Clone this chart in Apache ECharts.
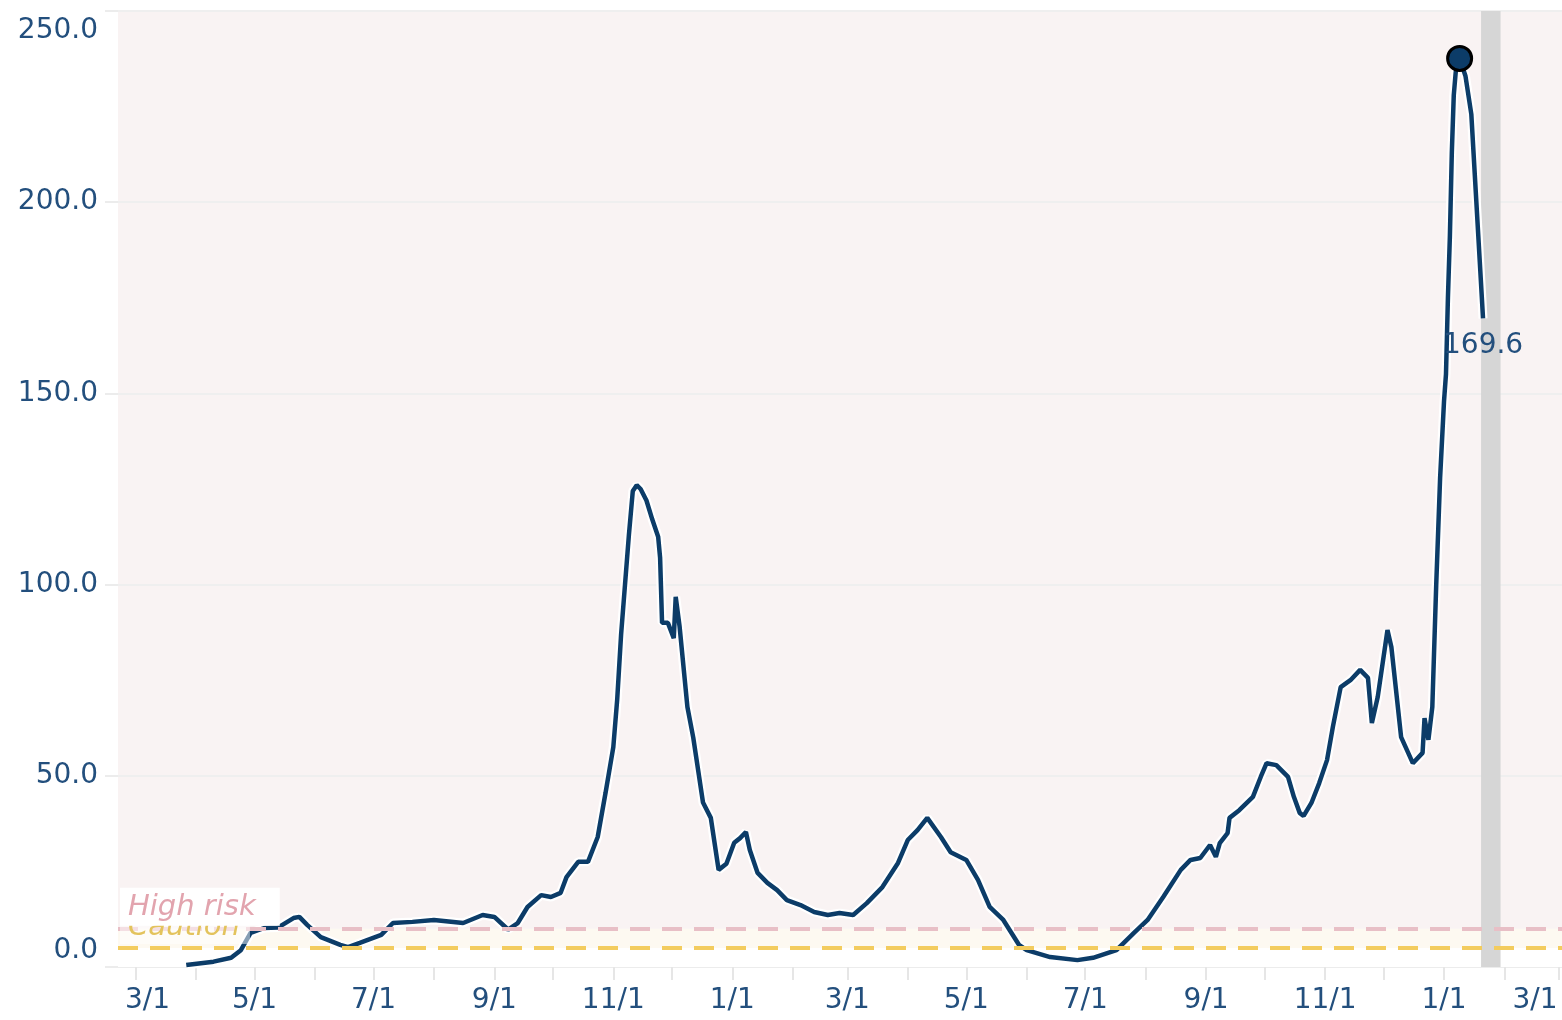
<!DOCTYPE html>
<html>
<head>
    <meta charset="UTF-8">
    <script src="https://cdn.jsdelivr.net/npm/echarts@6/dist/echarts.min.js"></script>
    <style>
        html, body { margin: 0; padding: 0; background: #fff; }
        #chart { width: 1562px; height: 1020px; }
    </style>
</head>
<body>
<div id="chart"></div>
<script>
    // daily rate
    var dates = [
        '2020-03-27', '2020-04-10', '2020-04-19', '2020-04-24', '2020-04-29', '2020-05-06', '2020-05-13',
        '2020-05-21', '2020-05-24', '2020-05-28', '2020-06-04', '2020-06-14', '2020-06-18', '2020-06-24',
        '2020-07-05', '2020-07-11', '2020-07-21', '2020-08-01', '2020-08-16', '2020-08-26', '2020-09-01',
        '2020-09-08', '2020-09-13', '2020-09-18', '2020-09-25', '2020-09-30', '2020-10-05', '2020-10-08',
        '2020-10-14', '2020-10-19', '2020-10-24', '2020-10-28', '2020-11-01', '2020-11-03', '2020-11-05',
        '2020-11-07', '2020-11-09', '2020-11-11', '2020-11-13', '2020-11-15', '2020-11-18', '2020-11-21',
        '2020-11-24', '2020-11-25', '2020-11-26', '2020-11-29', '2020-12-02', '2020-12-03', '2020-12-05',
        '2020-12-09', '2020-12-12', '2020-12-17', '2020-12-21', '2020-12-25', '2020-12-29',
        '2021-01-02', '2021-01-05', '2021-01-08', '2021-01-10', '2021-01-14', '2021-01-19', '2021-01-24',
        '2021-01-29', '2021-02-05', '2021-02-12', '2021-02-19', '2021-02-25', '2021-03-04', '2021-03-11',
        '2021-03-19', '2021-03-27', '2021-04-01', '2021-04-06', '2021-04-11', '2021-04-18', '2021-04-23',
        '2021-05-01', '2021-05-07', '2021-05-13', '2021-05-20', '2021-05-28', '2021-06-01', '2021-06-13',
        '2021-06-27', '2021-07-05', '2021-07-17', '2021-07-26', '2021-08-02', '2021-08-10', '2021-08-19',
        '2021-08-24', '2021-08-29', '2021-09-03', '2021-09-06', '2021-09-08', '2021-09-12', '2021-09-13',
        '2021-09-18', '2021-09-25', '2021-09-29', '2021-10-02', '2021-10-07', '2021-10-13', '2021-10-16',
        '2021-10-19', '2021-10-21', '2021-10-25', '2021-10-29', '2021-11-02', '2021-11-05', '2021-11-09',
        '2021-11-14', '2021-11-19', '2021-11-23', '2021-11-25', '2021-11-28', '2021-12-03', '2021-12-05',
        '2021-12-10', '2021-12-16', '2021-12-21', '2021-12-22', '2021-12-24', '2021-12-26', '2021-12-28',
        '2021-12-29', '2021-12-30', '2022-01-01', '2022-01-02', '2022-01-03', '2022-01-04', '2022-01-05',
        '2022-01-06', '2022-01-07', '2022-01-09', '2022-01-12', '2022-01-15', '2022-01-21'
    ];
    var values = [
        0.5, 1.4, 2.4, 4.4, 8.9, 10.2, 10.3,
        12.8, 13.1, 11.0, 7.8, 5.8, 5.2, 6.3,
        8.4, 11.5, 11.8, 12.3, 11.5, 13.6, 13.1,
        9.8, 11.5, 15.7, 18.8, 18.3, 19.4, 23.5,
        27.5, 27.5, 34.0, 45.5, 57.5, 70.0, 87.0,
        100.0, 113.0, 124.5, 126.0, 125.0, 122.0, 117.0,
        112.5, 107.0, 90.0, 90.0, 86.0, 96.8, 89.0,
        68.0, 60.0, 43.0, 39.0, 25.4, 27.0,
        32.5, 33.7, 35.3, 30.6, 24.6, 22.0, 20.1,
        17.5, 16.2, 14.4, 13.6, 14.1, 13.6, 16.7,
        20.9, 27.2, 33.2, 35.8, 39.0, 34.0, 30.0,
        28.0, 22.8, 15.7, 12.3, 5.8, 4.4, 2.6,
        1.8, 2.4, 4.4, 8.9, 12.3, 18.3, 25.4,
        28.0, 28.5, 31.9, 28.8, 32.4, 35.0, 39.0,
        41.0, 44.5, 49.7, 53.3, 52.8, 49.7, 44.5,
        40.3, 39.5, 42.9, 48.1, 54.1, 62.8, 73.2,
        75.0, 77.7, 75.6, 63.8, 70.6, 88.1, 83.7,
        60.1, 53.3, 56.0, 65.1, 59.4, 68.0, 100.0,
        114.0, 128.0, 148.0, 155.0, 175.0, 191.0, 213.0,
        228.0, 234.0, 237.6, 233.0, 223.0, 169.6
    ];

    var tickDates = [
        '2020-03-01', '2020-04-01', '2020-05-01', '2020-06-01', '2020-07-01', '2020-08-01', '2020-09-01',
        '2020-10-01', '2020-11-01', '2020-12-01', '2021-01-01', '2021-02-01', '2021-03-01', '2021-04-01',
        '2021-05-01', '2021-06-01', '2021-07-01', '2021-08-01', '2021-09-01', '2021-10-01', '2021-11-01',
        '2021-12-01', '2022-01-01', '2022-02-01', '2022-03-01'
    ];
    var labelDates = [
        '2020-03-01', '2020-05-01', '2020-07-01', '2020-09-01', '2020-11-01', '2021-01-01', '2021-03-01',
        '2021-05-01', '2021-07-01', '2021-09-01', '2021-11-01', '2022-01-01', '2022-03-01'
    ];
    var yTicks = [0, 50, 100, 150, 200, 250];

    var cautionLevel = 5;
    var highRiskLevel = 10;
    var xStart = '2020-02-21T00:00:00';
    var xEnd = '2022-03-02T12:00:00';
    var bandFrom = '2022-01-20';
    var bandTo = '2022-01-30';

    var navy = '#0c3c68';
    var textBlue = '#234f7d';

    function toTime(s) {
        return +new Date(s.length === 10 ? s + 'T00:00:00' : s);
    }

    var lineData = dates.map(function (d, i) {
        return [toTime(d), values[i]];
    });

    var firstLabel = toTime(labelDates[0]);
    var lastLabel = toTime(labelDates[labelDates.length - 1]);

    var chart = echarts.init(document.getElementById('chart'));
    var option = {
        animation: false,
        textStyle: { fontFamily: 'DejaVu Sans' },
        grid: {
            left: 118, right: 0, top: 11, bottom: 53,
            containLabel: false,
            outerBoundsMode: 'none',
            show: true,
            backgroundColor: '#f9f3f3',
            borderWidth: 0
        },
        xAxis: {
            type: 'value',
            min: toTime(xStart),
            max: toTime(xEnd),
            splitLine: { show: false },
            axisLine: { show: true, lineStyle: { color: '#ececec', width: 2 } },
            axisTick: {
                show: true,
                customValues: tickDates.map(toTime),
                length: 13,
                lineStyle: { color: '#e6e6e6', width: 2 }
            },
            axisLabel: {
                customValues: labelDates.map(toTime),
                margin: 20,
                fontSize: 28,
                color: textBlue,
                formatter: function (v) {
                    var d = new Date(v);
                    var s = (d.getMonth() + 1) + '/' + d.getDate();
                    if (v === firstLabel) return '{first|' + s + '}';
                    if (v === lastLabel) return '{last|' + s + '}';
                    return s;
                },
                rich: {
                    first: { fontSize: 28, color: textBlue, padding: [0, 0, 0, 24] },
                    last: { fontSize: 28, color: textBlue, padding: [0, 48, 0, 0] }
                }
            }
        },
        yAxis: {
            type: 'value',
            min: yTicks[0],
            max: yTicks[yTicks.length - 1],
            interval: 50,
            axisLine: { show: false },
            axisTick: { show: true, length: 13, lineStyle: { color: '#ececec', width: 2 } },
            splitLine: { show: true, lineStyle: { color: '#efefef', width: 2 } },
            axisLabel: {
                margin: 20,
                fontSize: 28,
                color: textBlue,
                formatter: function (v) {
                    var s = v.toFixed(1);
                    if (v === yTicks[yTicks.length - 1]) return '{hi|' + s + '}';
                    if (v === yTicks[0]) return '{lo|' + s + '}';
                    return s;
                },
                rich: {
                    hi: { fontSize: 28, color: textBlue, padding: [40, 0, 0, 0] },
                    lo: { fontSize: 28, color: textBlue, padding: [0, 0, 32, 0] }
                }
            }
        },
        series: [
            {
                name: 'zones',
                type: 'line',
                data: [],
                z: 1,
                silent: true,
                markArea: {
                    silent: true,
                    data: [
                        [{ yAxis: 0, itemStyle: { color: '#ffffff' } }, { yAxis: cautionLevel }],
                        [{ yAxis: cautionLevel, itemStyle: { color: '#fdf9f1' } }, { yAxis: highRiskLevel }],
                        [{ xAxis: toTime(bandFrom), itemStyle: { color: '#d6d6d6' } }, { xAxis: toTime(bandTo) }]
                    ]
                },
                markLine: {
                    silent: true,
                    symbol: 'none',
                    data: [
                        {
                            yAxis: cautionLevel,
                            lineStyle: { color: '#f3cc5e', type: [20, 12], width: 4 },
                            label: {
                                show: true,
                                position: 'insideStartTop',
                                formatter: 'Caution',
                                fontStyle: 'italic',
                                fontSize: 29,
                                color: '#e3c35c',
                                backgroundColor: 'rgba(255,255,255,0.5)',
                                padding: [2, 10, 2, 8],
                                distance: [2, 4]
                            }
                        },
                        {
                            yAxis: highRiskLevel,
                            lineStyle: { color: '#e8bfc6', type: [20, 12], width: 4 },
                            label: {
                                show: true,
                                position: 'insideStartTop',
                                formatter: 'High risk',
                                fontStyle: 'italic',
                                fontSize: 29,
                                color: '#e2a4ae',
                                backgroundColor: '#ffffff',
                                padding: [5, 24, 4, 8],
                                distance: [2, 3]
                            }
                        }
                    ]
                }
            },
            {
                name: 'halo',
                type: 'line',
                data: lineData,
                z: 2,
                silent: true,
                showSymbol: false,
                lineStyle: { color: '#ffffff', width: 9 }
            },
            {
                name: 'rate',
                type: 'line',
                data: lineData,
                z: 3,
                showSymbol: false,
                lineStyle: { color: navy, width: 4.5 },
                itemStyle: { color: navy },
                endLabel: {
                    show: true,
                    fontSize: 28,
                    color: textBlue,
                    offset: [-48, 27],
                    formatter: function (p) { return p.value[1].toFixed(1); }
                },
                markPoint: {
                    symbol: 'circle',
                    symbolSize: 24,
                    itemStyle: { color: navy, borderColor: '#000000', borderWidth: 3 },
                    label: { show: false },
                    data: [{ type: 'max' }]
                }
            }
        ]
    };
    chart.setOption(option);
</script>
</body>
</html>
